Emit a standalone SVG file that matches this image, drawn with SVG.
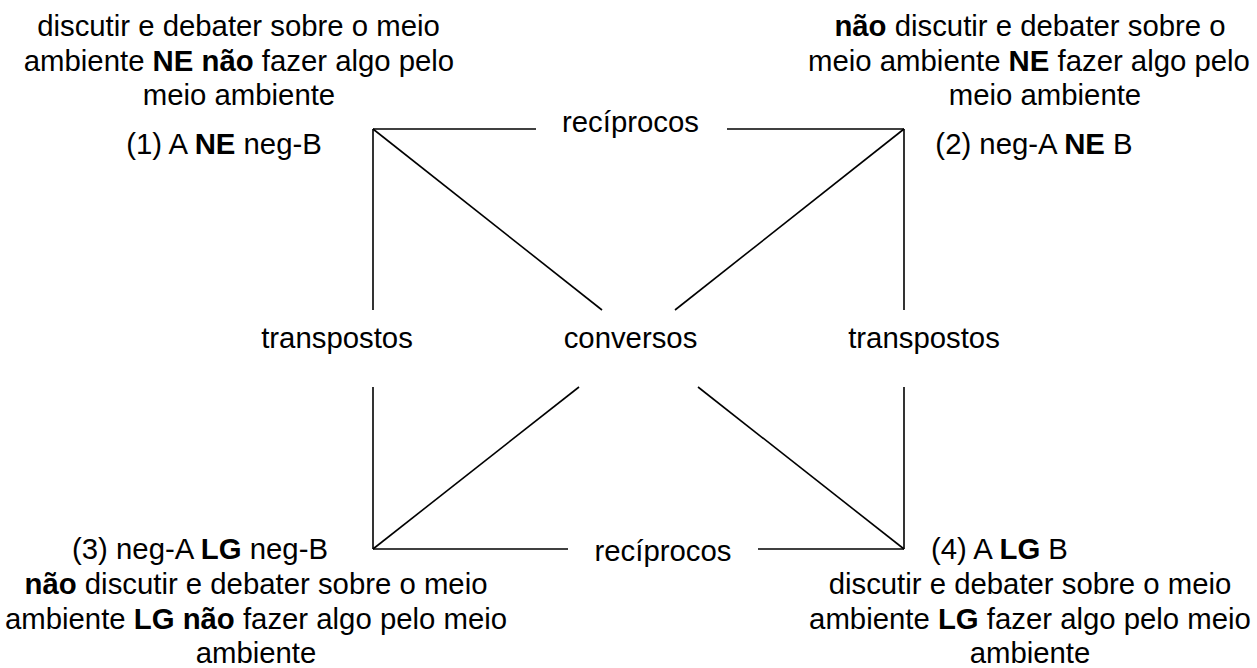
<svg xmlns="http://www.w3.org/2000/svg" width="1257" height="668" viewBox="0 0 1257 668">
<style>
text{font-family:"Liberation Sans",Arial,sans-serif;font-size:29.33px;fill:#000;text-anchor:middle}
.b{font-weight:bold}
.l{text-anchor:start}
line{stroke:#000;stroke-width:1.6;fill:none}
</style>
<rect width="1257" height="668" fill="#fff"/>
<g id="connectors">
<line x1="373" y1="129" x2="536" y2="129"/>
<line x1="727" y1="129" x2="904" y2="129"/>
<line x1="373" y1="549" x2="568" y2="549"/>
<line x1="758" y1="549" x2="904" y2="549"/>
<line x1="373" y1="129" x2="373" y2="310"/>
<line x1="373" y1="387" x2="373" y2="549"/>
<line x1="904" y1="129" x2="904" y2="310"/>
<line x1="904" y1="387" x2="904" y2="549"/>
<line x1="373" y1="129" x2="602" y2="310"/>
<line x1="698" y1="387" x2="904" y2="549"/>
<line x1="904" y1="129" x2="675" y2="310"/>
<line x1="579" y1="387" x2="373" y2="549"/>
<text x="630.5" y="132">recíprocos</text>
<text x="663" y="561">recíprocos</text>
<text x="337" y="348">transpostos</text>
<text x="630.5" y="348">conversos</text>
<text x="924" y="348">transpostos</text>
</g>
<g id="node1">
<text x="238.5" y="36">discutir e debater sobre o meio</text>
<text x="239" y="70.5">ambiente <tspan class="b">NE não</tspan> fazer algo pelo</text>
<text x="239" y="104.5">meio ambiente</text>
<text x="224" y="154">(1) A <tspan class="b">NE</tspan> neg-B</text>
</g>
<g id="node2">
<text x="1030" y="36"><tspan class="b">não</tspan> discutir e debater sobre o</text>
<text x="1029" y="70.5">meio ambiente <tspan class="b">NE</tspan> fazer algo pelo</text>
<text x="1045" y="104.5">meio ambiente</text>
<text x="1034" y="154">(2) neg-A <tspan class="b">NE</tspan> B</text>
</g>
<g id="node3">
<text x="200" y="559">(3) neg-A <tspan class="b">LG</tspan> neg-B</text>
<text x="256" y="594"><tspan class="b">não</tspan> discutir e debater sobre o meio</text>
<text x="256" y="628.5">ambiente <tspan class="b">LG não</tspan> fazer algo pelo meio</text>
<text x="256" y="663">ambiente</text>
</g>
<g id="node4">
<text class="l" x="931" y="559">(4) A <tspan class="b">LG</tspan> B</text>
<text x="1030" y="594">discutir e debater sobre o meio</text>
<text x="1030" y="628.5">ambiente <tspan class="b">LG</tspan> fazer algo pelo meio</text>
<text x="1030" y="663">ambiente</text>
</g>
</svg>
